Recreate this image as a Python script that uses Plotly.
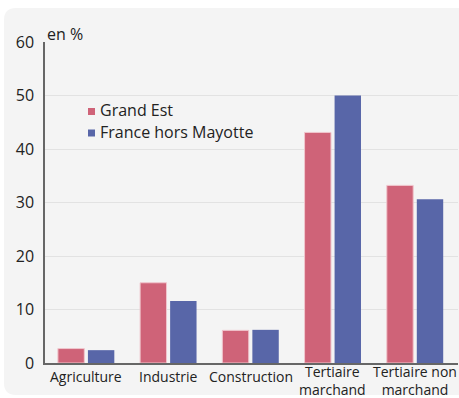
import plotly.graph_objects as go

categories = ["Agriculture", "Industrie", "Construction", "Tertiaire marchand", "Tertiaire non marchand"]
category_labels = ["Agriculture", "Industrie", "Construction",
                   "Tertiaire<br>marchand", "Tertiaire non<br>marchand"]
grand_est = [2.7, 15.0, 6.1, 43.1, 33.2]
france_hors_mayotte = [2.4, 11.6, 6.2, 50.0, 30.6]
y_ticks = [0, 10, 20, 30, 40, 50, 60]
series_names = ["Grand Est", "France hors Mayotte"]
series_colors = ["#cf6378", "#5866a8"]

W, H = 459, 398
L, R, T, B = 45, 1, 42, 35
pw, ph = W - L - R, H - T - B

def px_x(x):
    return (x - L) / pw

def px_y(y):
    return (H - B - y) / ph

font = "Open Sans, Noto Sans, sans-serif"
ink = "#222"

fig = go.Figure()
fig.add_trace(go.Bar(
    name=series_names[0], x=categories, y=grand_est,
    marker=dict(color=series_colors[0], line=dict(color="#f0c6cd", width=1)),
))
fig.add_trace(go.Bar(
    name=series_names[1], x=categories, y=france_hors_mayotte,
    marker=dict(color=series_colors[1], line=dict(width=0)),
))

# rounded light-grey panel behind the chart
x0, y0, x1, y1, r = px_x(4), px_y(8), px_x(470), px_y(395), 12
rx, ry = r / pw, r / ph
path = (f"M {x0},{y0 - ry} Q {x0},{y0} {x0 + rx},{y0} L {x1},{y0} L {x1},{y1} "
        f"L {x0 + rx},{y1} Q {x0},{y1} {x0},{y1 + ry} Z")
fig.add_shape(type="path", path=path, xref="paper", yref="paper",
              fillcolor="#f4f4f4", line=dict(width=0), layer="below")

# unit label
fig.add_annotation(text="en %", xref="paper", yref="paper",
                   x=px_x(45), y=px_y(34), xanchor="left", yanchor="middle",
                   showarrow=False, font=dict(family=font, size=16, color=ink))

# compact legend: small squares with labels
for i, (name, color) in enumerate(zip(series_names, series_colors)):
    cy = 111.5 + i * 21.5
    fig.add_shape(type="rect", xref="paper", yref="paper",
                  x0=px_x(88), x1=px_x(95), y0=px_y(cy - 3.5), y1=px_y(cy + 3.5),
                  fillcolor=color, line=dict(width=0))
    fig.add_annotation(text=name, xref="paper", yref="paper",
                       x=px_x(98), y=px_y(cy - 1), xanchor="left", yanchor="middle",
                       showarrow=False, font=dict(family=font, size=16, color=ink))

# category labels under the axis
for cat, label in zip(categories, category_labels):
    n_lines = label.count("<br>") + 1
    cy = 376.5 if n_lines == 1 else 380.5
    fig.add_annotation(text=label, x=cat, xref="x", yref="paper",
                       y=px_y(cy), xanchor="center", yanchor="middle",
                       borderpad=0, showarrow=False,
                       font=dict(family=font, size=14, color=ink))

fig.update_layout(
    width=W, height=H,
    margin=dict(l=L, r=R, t=T, b=B, autoexpand=False),
    paper_bgcolor="white",
    plot_bgcolor="rgba(0,0,0,0)",
    barmode="group",
    bargap=0.27,
    bargroupgap=0.12,
    font=dict(family=font, size=14, color=ink),
    showlegend=False,
    xaxis=dict(
        showline=True, linecolor="#666", linewidth=1.5,
        ticks="", showticklabels=False, automargin=False,
        showgrid=False, fixedrange=True,
    ),
    yaxis=dict(
        range=[0, 60], tickvals=y_ticks, showline=True, linecolor="#666", linewidth=1.5,
        showgrid=True, gridcolor="#e2e2e2", gridwidth=1, automargin=False,
        zeroline=False, ticks="", tickfont=dict(size=16, color=ink),
        ticklabelstandoff=6,
    ),
)

fig.write_html("out.html")
